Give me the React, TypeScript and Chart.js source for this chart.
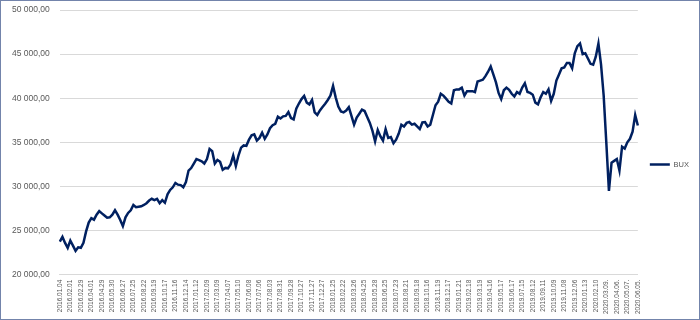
import React, { useEffect, useRef } from "react";
import { Chart, registerables } from "chart.js";

Chart.register(...registerables);

const tickLabels: string[] = [
  "2016.01.04", "2016.02.01", "2016.02.29", "2016.04.01", "2016.04.29", "2016.05.30", "2016.06.27",
  "2016.07.25", "2016.08.22", "2016.09.19", "2016.10.17", "2016.11.16", "2016.12.14", "2017.01.12",
  "2017.02.09", "2017.03.09", "2017.04.07", "2017.05.10", "2017.06.08", "2017.07.06", "2017.08.03",
  "2017.08.31", "2017.09.28", "2017.10.27", "2017.11.27", "2017.12.27", "2018.01.25", "2018.02.22",
  "2018.03.26", "2018.04.25", "2018.05.28", "2018.06.25", "2018.07.23", "2018.08.21", "2018.09.18",
  "2018.10.16", "2018.11.19", "2018.12.17", "2019.01.21", "2019.02.18", "2019.03.19", "2019.04.16",
  "2019.05.17", "2019.06.17", "2019.07.15", "2019.08.12", "2019.09.11", "2019.10.09", "2019.11.08",
  "2019.12.06", "2020.01.13", "2020.02.10", "2020.03.09.", "2020.04.06.", "2020.05.07.", "2020.06.05.",
];

// BUX values, 4 samples between consecutive tick labels
const buxValues: number[] = [
  23750, 24280, 23600, 23040, 23870, 23300, 22700, 23100, 23050, 23600,
  24900, 25900, 26400, 26230, 26800, 27200, 26950, 26700, 26450, 26500,
  26800, 27300, 26800, 26200, 25500, 26500, 27000, 27300, 27900, 27650,
  27700, 27750, 27900, 28100, 28400, 28600, 28450, 28600, 28100, 28450,
  28150, 29100, 29600, 29900, 30400, 30200, 30150, 29900, 30500, 31800,
  32080, 32600, 33100, 32990, 32850, 32600, 33100, 34250, 34000, 32600,
  33000, 32800, 31900, 32100, 32050, 32500, 33500, 32300, 33500, 34400,
  34650, 34600, 35300, 35800, 35900, 35200, 35500, 36100, 35400, 35900,
  36600, 36950, 37100, 37900, 37700, 37950, 38000, 38430, 37750, 37600,
  38800, 39400, 39900, 40250, 39500, 39300, 39800, 38400, 38100, 38620,
  39000, 39370, 39800, 40300, 41400, 40100, 39050, 38500, 38400, 38600,
  38990, 38000, 37000, 37800, 38240, 38700, 38550, 37870, 37200, 36300,
  35100, 36400, 35700, 35200, 36500, 35500, 35600, 34900, 35300, 36000,
  37000, 36800, 37200, 37300, 37000, 37100, 36800, 36500, 37250, 37300,
  36800, 37000, 38100, 39200, 39600, 40500, 40300, 39950, 39600, 39400,
  40900, 41000, 41000, 41200, 40300, 40800, 40800, 40800, 40700, 41900,
  42000, 42100, 42500, 43000, 43600, 42700, 41800, 40600, 39900, 40900,
  41200, 40950, 40500, 40200, 40700, 40500, 41200, 41700, 40700, 40600,
  40400, 39500, 39300, 40100, 40700, 40500, 41000, 39700, 40500, 42000,
  42700, 43400, 43500, 44000, 44000, 43400, 45100, 45900, 46200, 45000,
  45100, 44500, 43900, 43800, 44700, 46200, 43800, 40300, 35000, 29500,
  32700, 32900, 33100, 31800, 34500, 34300, 35000, 35400, 36200, 38100,
  36900,
];

const seriesName = "BUX";
const samplesPerTick = 4;

const formatHu = (v: number) => {
  const th = Math.floor(v / 1000);
  const rest = String(Math.round(v % 1000)).padStart(3, "0");
  return `${th} ${rest},00`;
};

export default function App() {
  const ref = useRef<HTMLCanvasElement | null>(null);

  useEffect(() => {
    document.body.style.margin = "0";
    if (!ref.current) return;
    const labels = buxValues.map((_, j) =>
      j % samplesPerTick === 0 ? tickLabels[j / samplesPerTick] ?? "" : ""
    );
    const font = "'Liberation Sans', Arial, sans-serif";
    const chart = new Chart(ref.current, {
      type: "line",
      data: {
        labels,
        datasets: [
          {
            label: seriesName,
            data: buxValues,
            borderColor: "#002060",
            backgroundColor: "#002060",
            borderWidth: 2.5,
            pointRadius: 0,
            pointStyle: "line",
            tension: 0,
          },
        ],
      },
      options: {
        animation: false,
        responsive: false,
        layout: { padding: { left: 8, top: 9, right: 0, bottom: 0 } },
        plugins: {
          tooltip: { enabled: false },
          legend: {
            position: "right",
            labels: {
              usePointStyle: true,
              pointStyleWidth: 20,
              color: "#595959",
              font: { family: font, size: 7.5 },
              padding: 12,
            },
          },
        },
        scales: {
          x: {
            type: "category",
            offset: false,
            grid: { display: false, drawTicks: false },
            border: { display: true, color: "#d9d9d9", width: 1 },
            ticks: {
              autoSkip: false,
              maxRotation: 90,
              minRotation: 90,
              padding: 5,
              color: "#595959",
              font: { family: font, size: 6.5 },
            },
          },
          y: {
            min: 20000,
            max: 50000,
            grid: {
              color: "#d9d9d9",
              drawTicks: true,
              tickLength: 7,
              tickColor: "rgba(0,0,0,0)",
            },
            border: { display: false },
            ticks: {
              stepSize: 5000,
              padding: 3,
              color: "#595959",
              font: { family: font, size: 8.5 },
              callback: (v: any) => formatHu(Number(v)),
            },
          },
        },
      },
    });
    return () => chart.destroy();
  }, []);

  return (
    <div
      style={{
        width: 700,
        height: 320,
        boxSizing: "border-box",
        border: "1px solid #7384ab",
        background: "#ffffff",
      }}
    >
      <canvas ref={ref} width={698} height={318} style={{ display: "block" }} />
    </div>
  );
}
